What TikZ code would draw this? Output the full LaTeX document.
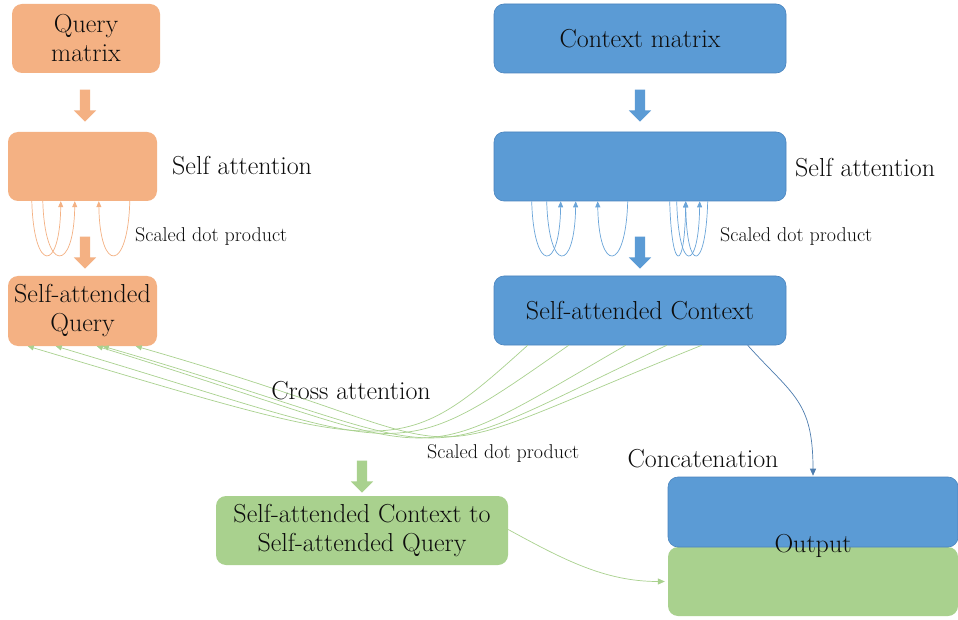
\documentclass[tikz,border=0pt]{standalone}
\usetikzlibrary{shapes.arrows,arrows.meta}
\definecolor{qorange}{HTML}{F4B183}
\definecolor{cblue}{HTML}{5B9BD5}
\definecolor{cbluedark}{HTML}{4A84BE}
\definecolor{agreen}{HTML}{A9D18E}
\definecolor{linkblue}{HTML}{4E7DAF}
\definecolor{ink}{HTML}{0D0D0D}
\tikzset{
  box/.style={rounded corners=10pt, inner sep=0pt, align=center, text=ink,
    font=\fontsize{26}{29}\selectfont},
  qbox/.style={box, fill=qorange},
  cbox/.style={box, fill=cblue, draw=cbluedark, line width=0.6pt},
  gbox/.style={box, fill=agreen},
  lbl/.style={text=ink, font=\fontsize{26}{29}\selectfont, inner sep=0pt},
  small/.style={text=ink, font=\fontsize{20}{23}\selectfont, inner sep=0pt},
  blockarrow/.style={single arrow, draw=none, rotate=-90, minimum height=32pt,
    inner sep=5pt, single arrow head extend=6pt},
  tip/.style={-{Triangle[length=6pt,width=5pt]}},
  oloop/.style={tip, draw=qorange, line width=0.7pt},
  bloop/.style={tip, draw=cblue!90!white, line width=0.7pt},
  xlink/.style={tip, draw=agreen, line width=0.7pt},
}
\begin{document}
\begin{tikzpicture}[x=1pt,y=-1pt]
\useasboundingbox (0,0) rectangle (958,620);
\fill[white] (0,0) rectangle (958,620);

% query branch
\node[qbox, minimum width=148pt, minimum height=69pt] (qm) at (86,38.5) {Query\\matrix};
\node[qbox, minimum width=149pt, minimum height=69pt] (qs) at (82.5,166.5) {};
\node[qbox, minimum width=149pt, minimum height=70pt] (qa) at (82.5,311) {Self-attended\\Query};
\node[blockarrow, fill=qorange] (qarr1) at (85,103) {};
\node[blockarrow, fill=qorange] (qarr2) at (85,250) {};
\node[lbl, anchor=west] (qsl) at (172,166) {Self attention};
\node[small, anchor=west] (qdot) at (135,236) {Scaled dot product};

% self-attention loops on the query side
\draw[oloop] ([xshift=24pt]qs.south west) .. controls +(2,72) and +(-1,72) .. ([xshift=53pt]qs.south west);
\draw[oloop] ([xshift=35pt]qs.south west) .. controls +(2,72) and +(-1,72) .. ([xshift=67pt]qs.south west);
\draw[oloop] ([xshift=122pt]qs.south west) .. controls +(-2,72) and +(1,72) .. ([xshift=91pt]qs.south west);

% context branch
\node[cbox, minimum width=292pt, minimum height=69pt] (cm) at (640,38.5) {Context matrix};
\node[cbox, minimum width=292pt, minimum height=69pt] (cs) at (640,166.5) {};
\node[cbox, minimum width=292pt, minimum height=69pt] (ca) at (640,310.5) {Self-attended Context};
\node[blockarrow, fill=cblue] (carr1) at (640,103) {};
\node[blockarrow, fill=cblue] (carr2) at (640,250) {};
\node[lbl, anchor=west] (csl) at (795,168) {Self attention};
\node[small, anchor=west] (cdot) at (720,236) {Scaled dot product};

% self-attention loops on the context side
\draw[bloop] ([xshift=38pt]cs.south west) .. controls +(2,72) and +(-1,72) .. ([xshift=67pt]cs.south west);
\draw[bloop] ([xshift=53pt]cs.south west) .. controls +(2,72) and +(-1,72) .. ([xshift=82pt]cs.south west);
\draw[bloop] ([xshift=134pt]cs.south west) .. controls +(-2,72) and +(1,72) .. ([xshift=104pt]cs.south west);
\draw[bloop] ([xshift=176pt]cs.south west) .. controls +(2,72) and +(-1,72) .. ([xshift=192pt]cs.south west);
\draw[bloop] ([xshift=183pt]cs.south west) .. controls +(2,72) and +(-1,72) .. ([xshift=206pt]cs.south west);
\draw[bloop] ([xshift=214pt]cs.south west) .. controls +(-2,72) and +(1,72) .. ([xshift=192pt]cs.south west);

% cross attention
\draw[xlink] ([xshift=34pt]ca.south west) .. controls +(-130,117) and +(370,110) .. ([xshift=20pt]qa.south west);
\draw[xlink] ([xshift=75pt]ca.south west) .. controls +(-180,126) and +(360,107) .. ([xshift=48pt]qa.south west);
\draw[xlink] ([xshift=132pt]ca.south west) .. controls +(-230,133) and +(365,112) .. ([xshift=89pt]qa.south west);
\draw[xlink] ([xshift=173pt]ca.south west) .. controls +(-280,133) and +(385,112) .. ([xshift=95pt]qa.south west);
\draw[xlink] ([xshift=208pt]ca.south west) .. controls +(-330,133) and +(380,109) .. ([xshift=128pt]qa.south west);
\node[lbl] (xl) at (351,391) {Cross attention};
\node[small, anchor=west] (xdot) at (427,453) {Scaled dot product};

% result of cross attention
\node[blockarrow, fill=agreen] (garr) at (362,474) {};
\node[gbox, minimum width=292pt, minimum height=69pt] (gr) at (362,530.5) {Self-attended Context to\\Self-attended Query};

% concatenated output
\node[box, fill=agreen, minimum width=290pt, minimum height=69pt] (og) at (813,581.5) {};
\node[cbox, minimum width=290pt, minimum height=70pt] (ob) at (813,512) {};
\node[lbl] (out) at (813,546) {Output};
\node[lbl] (cc) at (703,459) {Concatenation};

\draw[-{Triangle[length=7pt,width=6pt]}, draw=linkblue, line width=0.7pt]
  ([xshift=254pt]ca.south west) .. controls +(45,50) and +(0,-75) .. ([yshift=1pt]ob.north);
\draw[-{Triangle[length=7pt,width=6pt]}, draw=agreen, line width=0.7pt]
  ([yshift=1pt]gr.east) .. controls +(55,30) and +(-60,0) .. ([xshift=-3pt]og.west);
\end{tikzpicture}
\end{document}
